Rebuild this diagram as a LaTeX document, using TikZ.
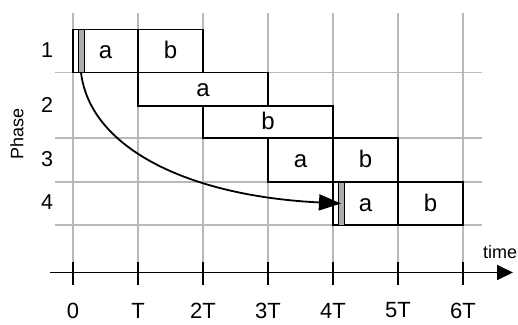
\documentclass[tikz,border=0pt]{standalone}
\usepackage{fontspec}
\setmainfont{Liberation Sans}
\newfontfamily\labfont{Liberation Sans}
\usetikzlibrary{arrows.meta}
\begin{document}
\begin{tikzpicture}[x=1pt,y=-1pt,
  gridline/.style={gray!55,line width=1.7pt},
  box/.style={draw=black,fill=white,line width=1.8pt,inner sep=0pt,outer sep=0pt,
    minimum width=65pt,font={\labfont\fontsize{24}{28}\selectfont},text height=15pt,text depth=0pt},
  strip/.style={draw=black,fill=gray!65,line width=0.7pt,inner sep=0pt,outer sep=0pt,minimum width=6pt},
  phaselbl/.style={font={\labfont\fontsize{21.5}{25}\selectfont},inner sep=0pt},
  ticklbl/.style={font={\labfont\fontsize{22}{26}\selectfont},inner sep=0pt},
  tickmark/.style={black,line width=1.6pt}]
\useasboundingbox (0,0) rectangle (518,324);
% grid
\foreach \k in {0,...,6}{
  \draw[gridline] (73+65*\k,13) -- (73+65*\k,272);
}
\foreach \yy in {72.5,138,182,225}{
  \draw[gridline] (55,\yy) -- (482,\yy);
}
% phase 1
\node[box,minimum height=43pt] (p1a) at (105.5,51) {a};
\node[box,minimum height=43pt] (p1b) at (170.5,51) {b};
% phase 2
\node[box,minimum width=130pt,minimum height=33.5pt] (p2a) at (203,89.25) {a};
\node[box,minimum width=130pt,minimum height=32pt] (p2b) at (268,122) {b};
% phase 3
\node[box,minimum height=44pt] (p3a) at (300.5,160) {a};
\node[box,minimum height=44pt] (p3b) at (365.5,160) {b};
% phase 4
\node[box,minimum height=43pt] (p4a) at (365.5,203.5) {a};
\node[box,minimum height=43pt] (p4b) at (430.5,203.5) {b};
% strips
\node[strip,minimum height=43pt] (s1) at (81,51) {};
\node[strip,minimum height=43pt] (s4) at (341,203.5) {};
% curve
\draw[line width=1.8pt,-{Triangle[length=22pt,width=16pt]}]
  (s1.south) .. controls (90,148) and (188,196) .. (s4.center);
% phase labels
\node[phaselbl] (l1) at (47,50) {1};
\node[phaselbl] (l2) at (47,104.5) {2};
\node[phaselbl] (l3) at (47,159.5) {3};
\node[phaselbl] (l4) at (47,202) {4};
\node[font={\labfont\fontsize{18}{22}\selectfont},rotate=90,inner sep=0pt] (ph) at (17,134) {Phase};
% axis
\coordinate (ax0) at (50,272.5);
\coordinate (ax1) at (513,272.5);
\draw[line width=1.7pt,-{Triangle[length=16pt,width=15pt]}] (ax0) -- (ax1);
\node[font={\labfont\fontsize{18}{22}\selectfont},inner sep=0pt] (tm) at (500,252.5) {time};
\foreach \k in {0,...,6}{
  \draw[tickmark] (73+65*\k,262) -- (73+65*\k,285);
}
\node[ticklbl] (t0) at (73,311) {0};
\node[ticklbl] (t1) at (138,311) {T};
\node[ticklbl] (t2) at (203,311) {2T};
\node[ticklbl] (t3) at (268,310.5) {3T};
\node[ticklbl] (t4) at (333,310.5) {4T};
\node[ticklbl] (t5) at (398,310.5) {5T};
\node[ticklbl] (t6) at (463,311.3) {6T};
\end{tikzpicture}
\end{document}
